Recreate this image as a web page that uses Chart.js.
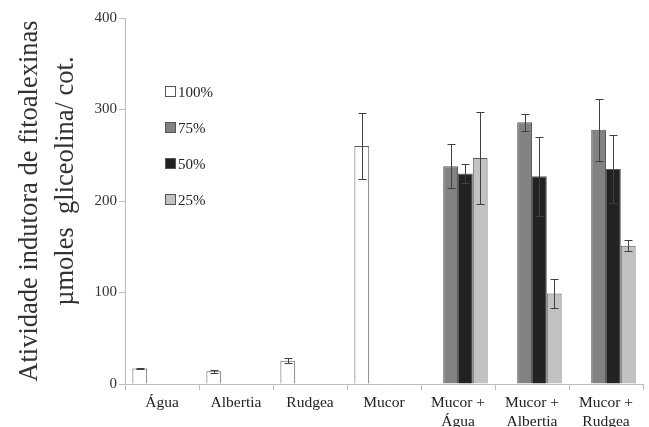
<!DOCTYPE html>
<html>
<head>
<meta charset="utf-8">
<script src="https://cdn.jsdelivr.net/npm/chart.js@4/dist/chart.umd.min.js"></script>
<style>
html,body{margin:0;padding:0;background:#fff;}
#wrap{width:649px;height:427px;}
</style>
</head>
<body>
<div id="wrap"><canvas id="cnv" width="649" height="427"></canvas></div>
<script>
// categorias e series
var categorias = ["Água", "Albertia", "Rudgea", "Mucor", ["Mucor +", "Água"], ["Mucor +", "Albertia"], ["Mucor +", "Rudgea"]];
var serie100 = [17, 14, 25.5, 260, null, null, null];
var erro100 = [1, 1.6, 2.5, 36, null, null, null];
var serie75 = [null, null, null, null, 238, 286, 278];
var erro75 = [null, null, null, null, 24, 9, 34];
var serie50 = [null, null, null, null, 230, 227, 235];
var erro50 = [null, null, null, null, 10, 43, 37];
var serie25 = [null, null, null, null, 247, 99, 151];
var erro25 = [null, null, null, null, 50, 16, 6];
var nomes = ["100%", "75%", "50%", "25%"];
var yTicks = [0, 100, 200, 300, 400];

var serif = "'Liberation Serif','DejaVu Serif',serif";

var barrasErro = {
	id: 'barrasErro',
	afterDatasetsDraw: function(chart){
		var c = chart.ctx;
		var ys = chart.scales.y;
		c.save();
		c.strokeStyle = '#404040';
		c.lineWidth = 1;
		chart.data.datasets.forEach(function(ds, i){
			var meta = chart.getDatasetMeta(i);
			meta.data.forEach(function(el, j){
				var v = ds.data[j], e = ds.erro[j];
				if(v == null || e == null) return;
				var x = Math.round(el.x) + 0.5;
				var t = Math.round(ys.getPixelForValue(v + e)) + 0.5;
				var b = Math.round(ys.getPixelForValue(v - e)) + 0.5;
				c.beginPath();
				c.moveTo(x, t); c.lineTo(x, b);
				c.moveTo(x - 4, t); c.lineTo(x + 4, t);
				c.moveTo(x - 4, b); c.lineTo(x + 4, b);
				c.stroke();
			});
		});
		c.restore();
	}
};

var legendaDentro = {
	id: 'legendaDentro',
	afterDraw: function(chart){
		var c = chart.ctx;
		c.save();
		c.font = "15px " + serif;
		c.textBaseline = 'middle';
		chart.data.datasets.forEach(function(ds, i){
			var y = 92 + i * 36;
			c.fillStyle = ds.backgroundColor;
			c.fillRect(165.5, y - 5.5, 10, 10);
			c.strokeStyle = '#555';
			c.lineWidth = 1;
			c.strokeRect(165.5, y - 5.5, 10, 10);
			c.fillStyle = '#222';
			c.fillText(ds.label, 178, y + 1);
		});
		c.restore();
	}
};

function serieDs(nome, dados, erros, cor){
	return {
		label: nome,
		data: dados,
		erro: erros,
		backgroundColor: cor,
		borderColor: '#5a5a5a',
		borderWidth: 1,
		categoryPercentage: 0.8,
		barPercentage: 1.0
	};
}

var ctx = document.getElementById("cnv");
var grafico = new Chart(ctx, {
	type: 'bar',
	data: {
		labels: categorias,
		datasets: [
			serieDs(nomes[0], serie100, erro100, '#ffffff'),
			serieDs(nomes[1], serie75, erro75, '#828282'),
			serieDs(nomes[2], serie50, erro50, '#222222'),
			serieDs(nomes[3], serie25, erro25, '#c2c2c2')
		]
	},
	options: {
		responsive: false,
		animation: false,
		layout: {padding: {top: 18, right: 6, left: 0, bottom: 0}},
		plugins: {legend: {display: false}, tooltip: {enabled: false}},
		scales: {
			x: {
				offset: true,
				grid: {offset: true, drawOnChartArea: false, tickLength: 6, color: '#bdbdbd'},
				border: {color: '#bdbdbd'},
				ticks: {color: '#222', font: {family: serif, size: 15.5}, maxRotation: 0, autoSkip: false, padding: 4},
				afterFit: function(s){ s.height = 43; }
			},
			y: {
				min: 0, max: 400,
				afterBuildTicks: function(s){ s.ticks = yTicks.map(function(v){ return {value: v}; }); },
				grid: {drawOnChartArea: false, tickLength: 6, color: '#bdbdbd'},
				border: {color: '#bdbdbd'},
				ticks: {color: '#333', font: {family: serif, size: 15}, padding: 2},
				title: {
					display: true,
					text: ["Atividade indutora de fitoalexinas", "      µmoles  gliceolina/ cot."],
					color: '#333',
					font: {family: serif, size: 26.5, lineHeight: 1.36},
					padding: {top: 12, bottom: 0}
				},
				afterFit: function(s){ s.width = 125; }
			}
		}
	},
	plugins: [barrasErro, legendaDentro]
});
</script>
</body>
</html>
